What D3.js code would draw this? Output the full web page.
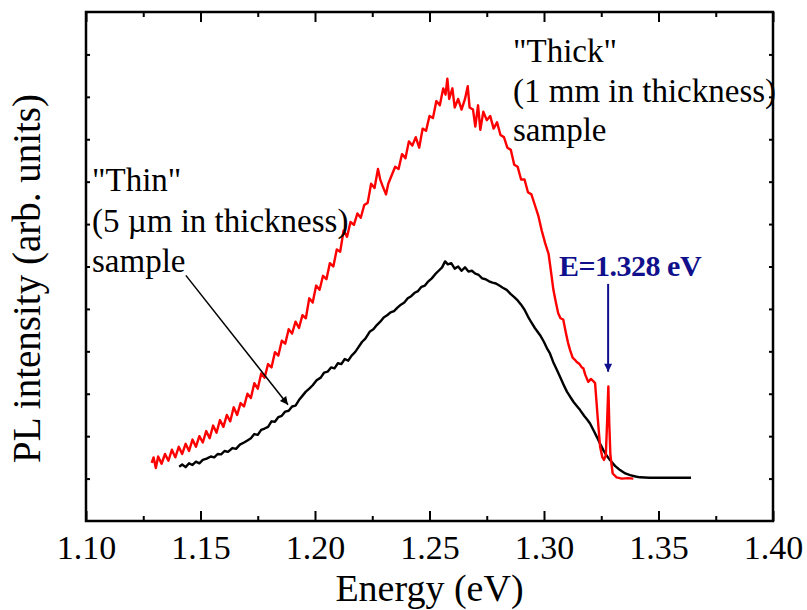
<!DOCTYPE html>
<html>
<head>
<meta charset="utf-8">
<script src="https://cdn.jsdelivr.net/npm/d3@7"></script>
<style>
  body { margin: 0; background: #fff; }
  svg text { font-family: "Liberation Serif", "Times New Roman", serif; }
  .thick_line { fill: none; stroke: #ff0000; stroke-width: 2.4; stroke-linejoin: round; }
  .thin_line  { fill: none; stroke: #000000; stroke-width: 2.4; stroke-linejoin: round; }
</style>
</head>
<body>
<svg id="pl_chart" width="807" height="610"></svg>
<script>

// "Thick" (1 mm) sample, red trace: [energy eV, PL intensity arb.]
var thick_data = [
  [1.1287,1.37],[1.1295,1.50],[1.1305,1.25],[1.1315,1.52],[1.1330,1.35],[1.1345,1.58],
  [1.1360,1.42],[1.1375,1.68],[1.1390,1.50],[1.1405,1.75],[1.1420,1.58],[1.1435,1.82],
  [1.1450,1.65],[1.1465,1.92],[1.1480,1.75],[1.1495,2.00],[1.1510,1.85],[1.1525,2.12],
  [1.1540,1.95],[1.1555,2.25],[1.1570,2.08],[1.1585,2.38],[1.1600,2.22],[1.1615,2.50],
  [1.1630,2.35],[1.1645,2.68],[1.1660,2.50],[1.1675,2.78],[1.1690,2.70],[1.1705,3.00],
  [1.1720,2.90],[1.1735,3.25],[1.1750,3.12],[1.1765,3.48],[1.1780,3.38],[1.1795,3.70],
  [1.1810,3.62],[1.1825,3.98],[1.1840,3.90],[1.1855,4.25],[1.1870,4.18],[1.1885,4.52],
  [1.1900,4.42],[1.1915,4.70],[1.1930,4.55],[1.1945,4.85],[1.1960,4.78],[1.1975,5.25],
  [1.1990,5.15],[1.2005,5.55],[1.2020,5.45],[1.2035,5.78],[1.2050,5.70],[1.2065,6.08],
  [1.2080,6.00],[1.2095,6.40],[1.2110,6.35],[1.2125,6.85],[1.2140,6.70],[1.2155,7.05],
  [1.2170,6.98],[1.2185,7.25],[1.2200,7.15],[1.2215,7.45],[1.2230,7.50],[1.2245,7.95],
  [1.2260,7.85],[1.2275,8.30],[1.2285,8.05],[1.2295,7.90],[1.2310,7.70],[1.2320,7.95],
  [1.2335,8.15],[1.2350,8.35],[1.2365,8.30],[1.2380,8.65],[1.2395,8.55],[1.2410,8.95],
  [1.2425,8.85],[1.2440,9.05],[1.2455,8.80],[1.2470,9.25],[1.2485,9.20],[1.2500,9.55],
  [1.2515,9.50],[1.2530,9.90],[1.2545,9.80],[1.2560,10.20],[1.2570,10.05],[1.2578,10.43],
  [1.2586,9.95],[1.2600,10.20],[1.2610,9.75],[1.2625,9.95],[1.2640,9.70],[1.2655,9.95],
  [1.2667,10.25],[1.2675,9.75],[1.2690,9.70],[1.2700,9.30],[1.2712,9.80],[1.2722,9.22],
  [1.2735,9.65],[1.2750,9.45],[1.2765,9.55],[1.2780,9.25],[1.2795,9.40],[1.2810,9.10],
  [1.2825,9.05],[1.2840,8.80],[1.2855,8.75],[1.2870,8.40],[1.2885,8.35],[1.2900,8.05],
  [1.2915,8.05],[1.2930,7.75],[1.2945,7.70],[1.2960,7.45],[1.2975,7.20],[1.2990,6.85],
  [1.3005,6.55],[1.3020,6.30],[1.3030,5.90],[1.3041,5.45],[1.3052,5.15],[1.3062,4.90],
  [1.3072,4.78],[1.3084,4.75],[1.3095,4.45],[1.3105,4.20],[1.3114,4.03],[1.3125,3.85],
  [1.3135,3.80],[1.3143,3.75],[1.3155,3.70],[1.3165,3.62],[1.3172,3.60],[1.3180,3.45],
  [1.3193,3.28],[1.3205,3.35],[1.3215,3.30],[1.3223,3.25],[1.3235,2.40],[1.3245,1.75],
  [1.3255,1.50],[1.3262,1.44],[1.3270,1.55],[1.3276,2.40],[1.3281,3.17],[1.3285,2.30],
  [1.3290,1.55],[1.3300,1.12],[1.3317,1.03],[1.3340,1.00],[1.3365,1.01],[1.3390,1.00]
];

// "Thin" (5 um) sample, black trace
var thin_data = [
  [1.1407,1.28],[1.1420,1.33],[1.1435,1.27],[1.1450,1.36],[1.1465,1.32],[1.1480,1.40],
  [1.1495,1.36],[1.1510,1.44],[1.1527,1.47],[1.1545,1.52],[1.1560,1.50],[1.1575,1.58],
  [1.1590,1.57],[1.1605,1.65],[1.1620,1.63],[1.1640,1.72],[1.1655,1.70],[1.1672,1.80],
  [1.1690,1.85],[1.1705,1.90],[1.1720,1.95],[1.1735,2.05],[1.1750,2.03],[1.1765,2.15],
  [1.1780,2.18],[1.1795,2.22],[1.1810,2.35],[1.1825,2.34],[1.1840,2.45],[1.1855,2.48],
  [1.1870,2.58],[1.1885,2.60],[1.1900,2.70],[1.1915,2.72],[1.1930,2.85],[1.1945,2.95],
  [1.1960,3.05],[1.1975,3.12],[1.1990,3.20],[1.2007,3.32],[1.2025,3.38],[1.2040,3.50],
  [1.2055,3.52],[1.2070,3.62],[1.2085,3.60],[1.2100,3.72],[1.2115,3.70],[1.2130,3.82],
  [1.2145,3.78],[1.2160,3.90],[1.2175,3.98],[1.2190,4.10],[1.2205,4.22],[1.2220,4.30],
  [1.2240,4.47],[1.2255,4.52],[1.2270,4.62],[1.2285,4.70],[1.2300,4.80],[1.2315,4.85],
  [1.2330,4.92],[1.2345,4.95],[1.2360,5.03],[1.2375,5.10],[1.2390,5.15],[1.2405,5.25],
  [1.2420,5.30],[1.2435,5.38],[1.2450,5.42],[1.2465,5.52],[1.2480,5.55],[1.2495,5.65],
  [1.2510,5.72],[1.2525,5.82],[1.2540,5.90],[1.2555,5.98],[1.2568,6.12],[1.2580,6.05],
  [1.2595,6.08],[1.2610,5.95],[1.2625,6.00],[1.2640,5.90],[1.2655,5.98],[1.2670,5.88],
  [1.2685,5.90],[1.2700,5.83],[1.2715,5.80],[1.2730,5.72],[1.2745,5.70],[1.2760,5.65],
  [1.2775,5.62],[1.2790,5.60],[1.2805,5.55],[1.2820,5.50],[1.2837,5.45],[1.2855,5.35],
  [1.2870,5.28],[1.2885,5.20],[1.2900,5.10],[1.2915,4.98],[1.2930,4.82],[1.2945,4.68],
  [1.2960,4.55],[1.2983,4.38],[1.3000,4.22],[1.3015,4.05],[1.3026,3.95],[1.3040,3.75],
  [1.3055,3.58],[1.3070,3.40],[1.3085,3.22],[1.3100,3.05],[1.3114,2.93],[1.3130,2.80],
  [1.3145,2.70],[1.3157,2.62],[1.3175,2.48],[1.3190,2.38],[1.3201,2.30],[1.3215,2.15],
  [1.3230,1.99],[1.3245,1.82],[1.3259,1.67],[1.3275,1.53],[1.3288,1.44],[1.3310,1.30],
  [1.3332,1.20],[1.3355,1.12],[1.3376,1.08],[1.3400,1.05],[1.3419,1.03],[1.3460,1.02],
  [1.3507,1.02],[1.3560,1.02],[1.3600,1.02],[1.3642,1.02]
];

var x_ticks = [1.10, 1.15, 1.20, 1.25, 1.30, 1.35, 1.40];
var x_minor = [1.125, 1.175, 1.225, 1.275, 1.325, 1.375];
var y_ticks = [1,2,3,4,5,6,7,8,9,10,11];

var thick_label = ['"Thick"', '(1 mm in thickness)', 'sample'];
var thin_label  = ['"Thin"', '(5 \u00b5m in thickness)', 'sample'];
var peak_label  = 'E=1.328 eV';
var peak_energy = 1.328;

function draw_pl_chart( chart_name ){

    var svg = d3.select(chart_name);
    var svg_width  = +svg.attr("width");
    var svg_height = +svg.attr("height");

    var margin = {left: 86, right: 34, top: 12, bottom: 89},
        width  = svg_width  - margin.left - margin.right,
        height = svg_height - margin.top  - margin.bottom;

    var xAxis = d3.scaleLinear().domain([1.10, 1.40]).range([0, width]);
    var yAxis = d3.scaleLinear().domain([0, 12]).range([height, 0]);

    var defs = svg.append("defs");
    defs.append("marker")
        .attr("id", "head_black")
        .attr("viewBox", "0 0 10 10").attr("refX", 10).attr("refY", 5)
        .attr("markerWidth", 12).attr("markerHeight", 8)
        .attr("markerUnits", "userSpaceOnUse")
        .attr("orient", "auto")
      .append("path").attr("d", "M0,0 L10,5 L0,10 Z").attr("fill", "#000");
    defs.append("marker")
        .attr("id", "head_blue")
        .attr("viewBox", "0 0 10 10").attr("refX", 10).attr("refY", 5)
        .attr("markerWidth", 14).attr("markerHeight", 8)
        .attr("markerUnits", "userSpaceOnUse")
        .attr("orient", "auto")
      .append("path").attr("d", "M0,0 L10,5 L0,10 Z").attr("fill", "#10108c");

    var g = svg.append("g")
        .attr("transform", "translate(" + margin.left + "," + margin.top + ")");

    // data lines
    var line = d3.line()
        .x(function(d) { return xAxis(d[0]); })
        .y(function(d) { return yAxis(d[1]); });

    g.append("path").datum(thin_data).attr("class", "thin_line").attr("d", line);
    g.append("path").datum(thick_data).attr("class", "thick_line").attr("d", line);

    // axes, ticks inward on all four sides
    g.append("g")
        .attr("transform", "translate(0," + height + ")")
        .call(d3.axisBottom(xAxis).tickValues(x_ticks).tickSize(-10).tickPadding(14)
              .tickFormat(d3.format(".2f")));
    g.append("g")
        .attr("transform", "translate(0," + height + ")")
        .call(d3.axisBottom(xAxis).tickValues(x_minor).tickSize(-5).tickFormat(""));
    g.append("g")
        .call(d3.axisTop(xAxis).tickValues(x_ticks).tickSize(-10).tickFormat(""));
    g.append("g")
        .call(d3.axisTop(xAxis).tickValues(x_minor).tickSize(-5).tickFormat(""));
    g.append("g")
        .call(d3.axisLeft(yAxis).tickValues(y_ticks).tickSize(-4).tickFormat(""));
    g.append("g")
        .attr("transform", "translate(" + width + ",0)")
        .call(d3.axisRight(yAxis).tickValues(y_ticks).tickSize(-4).tickFormat(""));

    g.selectAll(".domain").remove();
    g.selectAll(".tick line").attr("stroke", "#000").attr("stroke-width", 2);
    g.selectAll(".tick text")
        .attr("fill", "#000")
        .style("font-size", "34px")
        .style("font-family", '"Liberation Serif", serif');

    g.append("rect")
        .attr("x", 0).attr("y", 0)
        .attr("width", width).attr("height", height)
        .attr("fill", "none").attr("stroke", "#000").attr("stroke-width", 2.5);

    // axis titles
    svg.append("text")
        .attr("x", margin.left + width / 2).attr("y", 601)
        .attr("text-anchor", "middle")
        .style("font-size", "38px")
        .text("Energy (eV)");

    svg.append("text")
        .attr("transform", "translate(40," + (margin.top + height / 2 + 12) + ") rotate(-90)")
        .attr("text-anchor", "middle")
        .style("font-size", "39px")
        .text("PL intensity (arb. units)");

    // annotations
    var thick_txt = svg.append("text").style("font-size", "33px");
    thick_label.forEach(function(s, i){
        thick_txt.append("tspan").attr("x", 513).attr("y", 62 + i * 39.5).text(s);
    });

    var thin_txt = svg.append("text").style("font-size", "33px");
    thin_label.forEach(function(s, i){
        thin_txt.append("tspan").attr("x", 92).attr("y", 191 + i * 40.5).text(s);
    });

    // arrow from "Thin" label to the black trace
    g.append("line")
        .attr("x1", xAxis(1.1436)).attr("y1", yAxis(5.79))
        .attr("x2", xAxis(1.1882)).attr("y2", yAxis(2.74))
        .attr("stroke", "#000").attr("stroke-width", 1.5)
        .attr("marker-end", "url(#head_black)");

    // sharp line marker
    svg.append("text")
        .attr("x", 559).attr("y", 276)
        .attr("fill", "#10108c")
        .style("font-size", "30px").style("font-weight", "bold")
        .style("letter-spacing", "-0.5px")
        .text(peak_label);

    g.append("line")
        .attr("x1", xAxis(peak_energy)).attr("y1", yAxis(5.59))
        .attr("x2", xAxis(peak_energy)).attr("y2", yAxis(3.52))
        .attr("stroke", "#10108c").attr("stroke-width", 2)
        .attr("marker-end", "url(#head_blue)");
}

draw_pl_chart("#pl_chart");

</script>
</body>
</html>
